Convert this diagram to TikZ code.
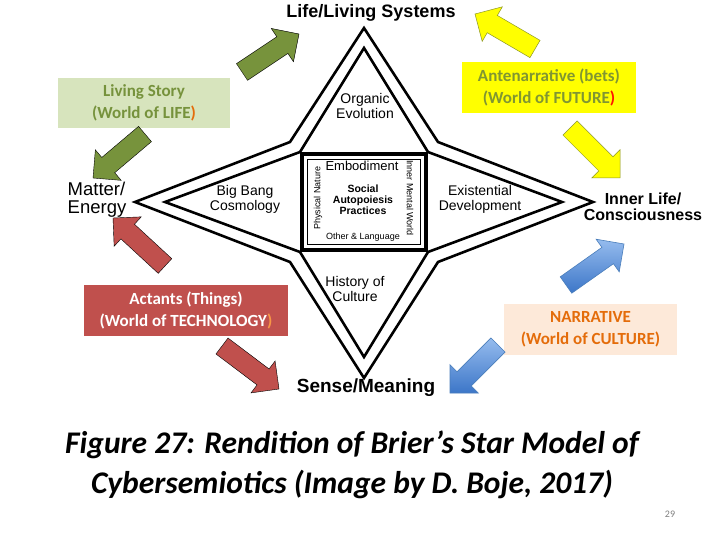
\documentclass[tikz,border=0pt]{standalone}
\usepackage{fontspec}
\setmainfont{Carlito}
\newfontfamily\arialfont{Liberation Sans}
\usepackage{tikz}
\usetikzlibrary{calc}
\usepackage{xcolor}
\definecolor{olivetxt}{RGB}{118,146,60}
\definecolor{lifefill}{RGB}{215,228,189}
\definecolor{futurefill}{RGB}{255,255,0}
\definecolor{futuretxt}{RGB}{128,150,50}
\definecolor{techfill}{RGB}{192,80,77}
\definecolor{cultfill}{RGB}{253,233,217}
\definecolor{culttxt}{RGB}{228,108,10}
\definecolor{accent}{RGB}{247,150,70}
\definecolor{blueD}{RGB}{60,118,200}
\definecolor{blueL}{RGB}{150,188,238}
\definecolor{blueE}{RGB}{74,126,187}
\definecolor{yelE}{RGB}{140,150,40}
\definecolor{greenA}{RGB}{119,147,60}
\tikzset{
  starline/.style={line width=2.6pt,line join=miter},
  pole/.style={font=\arialfont\bfseries\fontsize{18}{19}\selectfont,align=center,inner sep=0pt},
  armtxt/.style={font=\arialfont\fontsize{14}{15}\selectfont,align=center,inner sep=0pt},
  coretxt/.style={font=\arialfont\fontsize{9}{10}\selectfont,inner sep=0pt},
  world/.style={minimum width=173pt,minimum height=51pt,inner sep=0pt,align=center,font=\bfseries\fontsize{17}{22}\selectfont},
  greenarr/.style={fill=greenA},
  redarr/.style={fill=techfill},
  yelarr/.style={fill=futurefill,draw=yelE,line width=0.5pt},
  bluearr/.style={top color=blueL,bottom color=blueD,draw=blueE,line width=0.6pt},
}
% block arrow from tail #2 to tip #3
\newcommand{\barrow}[3]{%
  \coordinate (ba) at ($(#3)!20pt!(#2)$);
  \draw[#1] ($(#2)!10pt!90:(#3)$) -- ($(ba)!10pt!-90:(#2)$) -- ($(ba)!20pt!-90:(#2)$)
    -- (#3) -- ($(ba)!20pt!90:(#2)$) -- ($(ba)!10pt!90:(#2)$) -- ($(#2)!10pt!-90:(#3)$) -- cycle;}

\begin{document}
\begin{tikzpicture}[x=1pt,y=-1pt]
\useasboundingbox[fill=white] (0,0) rectangle (720,540);

% double star outline
\draw[starline] (364,28) -- (290,142) -- (135,202) -- (290,262) -- (364,378)
  -- (438,262) -- (593,202) -- (438,142) -- cycle;
\draw[starline] (364,48) -- (300,152) -- (165,202) -- (300,252) -- (364,357)
  -- (428,252) -- (562,202) -- (428,152) -- cycle;
% core square
\draw[fill=white,line width=4pt] (302,154) rectangle (426,250);
\draw[line width=1.4pt] (307.5,159.5) rectangle (420.5,244.5);

% poles
\node[pole] (life) at (371,13) {Life/Living Systems};
\node[font=\arialfont\fontsize{18.5}{18}\selectfont,align=left,inner sep=0pt] (matter) at (97,200) {Matter/\\Energy};
\node[pole,font=\arialfont\bfseries\fontsize{16}{15.5}\selectfont] (inner) at (643,207) {Inner Life/\\Consciousness};
\node[pole,font=\arialfont\bfseries\fontsize{19}{20}\selectfont] (sense) at (366,388) {Sense/Meaning};

% arms
\node[armtxt] (organic) at (365,106) {Organic\\Evolution};
\node[armtxt] (bigbang) at (245,199) {Big Bang\\Cosmology};
\node[armtxt] (exist) at (480,199) {Existential\\Development};
\node[armtxt] (history) at (355,289) {History of\\Culture};

% core
\node[font=\arialfont\fontsize{13}{14}\selectfont,inner sep=0pt] (embod) at (362,166) {Embodiment};
\node[font=\arialfont\bfseries\fontsize{10.5}{11}\selectfont,align=center,inner sep=0pt] (social) at (363,200) {Social\\Autopoiesis\\Practices};
\node[coretxt] (other) at (363,237) {Other \& Language};
\node[coretxt,rotate=90] (phys) at (318,198) {Physical Nature};
\node[coretxt,rotate=-90] (mental) at (410,198) {Inner Mental World};

% worlds
\node[world,fill=lifefill,text=olivetxt,minimum width=172pt,minimum height=50pt] (lifebox) at (144,103)
  {Living Story\\(World of LIFE\textcolor{culttxt}{)}};
\node[world,fill=futurefill,text=futuretxt,minimum width=174pt] (future) at (549,87.5)
  {Antenarrative (bets)\\(World of FUTURE\textcolor{red!85!orange}{)}};
\node[world,fill=techfill,text=white,minimum width=204pt] (tech) at (186,310.5)
  {Actants (Things)\\(World of TECHNOLOGY\textcolor{accent}{)}};
\node[world,fill=cultfill,text=culttxt] (culture) at (590.5,329.5)
  {NARRATIVE\\(World of CULTURE)};

% block arrows
\coordinate (g1a) at (242,72);  \coordinate (g1b) at (299,34);
\coordinate (g2a) at (145,134); \coordinate (g2b) at (93,178);
\coordinate (r1a) at (165,266); \coordinate (r1b) at (113,218);
\coordinate (r2a) at (222,346); \coordinate (r2b) at (279,389);
\coordinate (y1a) at (535,49);  \coordinate (y1b) at (475,14);
\coordinate (y2a) at (570,128); \coordinate (y2b) at (620,178);
\coordinate (b1a) at (566,285); \coordinate (b1b) at (624,244);
\coordinate (b2a) at (498,345); \coordinate (b2b) at (450,393);
\barrow{greenarr}{g1a}{g1b}
\barrow{greenarr}{g2a}{g2b}
\barrow{redarr}{r1a}{r1b}
\barrow{redarr}{r2a}{r2b}
\barrow{yelarr}{y1a}{y1b}
\barrow{yelarr}{y2a}{y2b}
\barrow{bluearr}{b1a}{b1b}
\barrow{bluearr}{b2a}{b2b}

% caption
\node[font=\bfseries\itshape\fontsize{31.5}{40}\selectfont,align=center,inner sep=0pt] (cap) at (352,465)
  {Figure 27: Rendition of Brier’s Star Model of\\Cybersemiotics (Image by D. Boje, 2017)};
\node[font=\fontsize{10}{11}\selectfont,text=black!50,inner sep=0pt] (pnum) at (670,514) {29};
\end{tikzpicture}
\end{document}
